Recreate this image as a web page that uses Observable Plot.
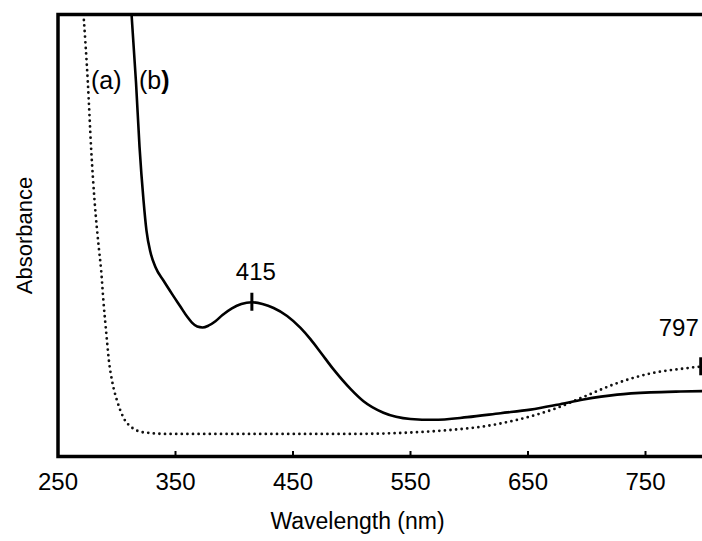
<!DOCTYPE html>
<html>
<head>
<meta charset="utf-8">
<script src="https://cdn.jsdelivr.net/npm/d3@7"></script>
<script src="https://cdn.jsdelivr.net/npm/@observablehq/plot@0.6"></script>
<style>
  html, body { margin: 0; padding: 0; background: #fff; overflow: hidden; }
  #chart svg { display: block; overflow: hidden; }
</style>
</head>
<body>
<div id="chart"></div>
<script>
// Spectrum (a), dotted trace: wavelength (nm) and absorbance (arbitrary units)
const wavelengthA = [271.7, 275.4, 278.3, 281.1, 284.9, 286.6, 288.7, 291.3, 293.4, 296.1,
  300.4, 305.7, 313.1, 320.2, 328.7, 342.9, 420, 498.9, 555.7, 584,
  612.1, 640.8, 657.8, 674.9, 697.5, 725.9, 754.3, 782.6, 797, 800];
const absorbanceA = [1.000, 0.846, 0.692, 0.579, 0.468, 0.425, 0.350, 0.273, 0.215, 0.170,
  0.125, 0.088, 0.065, 0.056, 0.053, 0.051, 0.051, 0.051, 0.055, 0.060,
  0.068, 0.083, 0.095, 0.110, 0.135, 0.166, 0.188, 0.199, 0.203, 0.203];

// Spectrum (b), solid trace
const wavelengthB = [312.6, 316.4, 319.4, 322.8, 325.3, 328.7, 333, 340, 347, 354,
  360, 364, 368.5, 373, 378, 384, 390, 398, 406, 415,
  424, 433.5, 445, 456.4, 465, 473.4, 484.5, 498.9, 510, 527,
  550, 569.6, 598.3, 626.6, 652.1, 674.9, 697.2, 725.9, 754.3, 780, 800];
const absorbanceB = [1.000, 0.846, 0.700, 0.579, 0.511, 0.462, 0.428, 0.397, 0.368, 0.340,
  0.316, 0.303, 0.294, 0.292, 0.296, 0.306, 0.320, 0.335, 0.345, 0.349,
  0.345, 0.336, 0.318, 0.291, 0.265, 0.236, 0.197, 0.153, 0.125, 0.099,
  0.085, 0.083, 0.089, 0.098, 0.106, 0.117, 0.129, 0.140, 0.145, 0.147, 0.148];

// Marked band maxima
const peakWavelengths = [415, 797];
const peakAbsorbance = [0.349, 0.203];
const peakLabels = ["415", "797"];

// Curve labels
const curveLabelText = ["(a)", "(b"];
const curveLabelWavelength = [278.1, 318.9];
const curveLabelAbsorbance = [0.831, 0.831];

const xTicks = [250, 350, 450, 550, 650, 750];
const xTitle = "Wavelength (nm)";
const yTitle = "Absorbance";

const seriesA = wavelengthA.map((w, i) => ({w, a: absorbanceA[i]}));
const seriesB = wavelengthB.map((w, i) => ({w, a: absorbanceB[i]}));
const peaks = peakWavelengths.map((w, i) => ({w, a: peakAbsorbance[i], label: peakLabels[i]}));
const curveLabels = curveLabelText.map((t, i) => ({t, w: curveLabelWavelength[i], a: curveLabelAbsorbance[i]}));

const font = "'Liberation Sans', Arial, Helvetica, sans-serif";

const chart = Plot.plot({
  width: 702,
  height: 541,
  marginLeft: 57.5,
  marginRight: -13.5,
  marginTop: 14,
  marginBottom: 85,
  style: {fontFamily: font, background: "#fff", overflow: "hidden"},
  x: {domain: [250, 810]},
  y: {domain: [0, 1], axis: null},
  marks: [
    Plot.line(seriesA, {
      x: "w", y: "a", curve: "monotone-x", clip: true,
      stroke: "#111", strokeWidth: 2.8, strokeDasharray: "0 5.6", strokeLinecap: "round"
    }),
    Plot.line(seriesB, {
      x: "w", y: "a", curve: "monotone-x", clip: true,
      stroke: "#000", strokeWidth: 2.6
    }),
    // short vertical markers on the maxima
    Plot.ruleX(peaks, {
      x: "w", y1: "a", y2: "a", insetTop: -9, insetBottom: -9,
      stroke: "#000", strokeWidth: 3
    }),
    Plot.text(peaks.slice(0, 1), {
      x: "w", y: "a", text: "label", lineAnchor: "bottom",
      dx: 4, dy: -22, fontSize: 24, fill: "#000"
    }),
    Plot.text(peaks.slice(1), {
      x: "w", y: "a", text: "label", lineAnchor: "bottom", textAnchor: "start",
      dx: -42, dy: -31, fontSize: 24, fill: "#000"
    }),
    Plot.text(curveLabels, {
      x: "w", y: "a", text: "t", lineAnchor: "bottom", textAnchor: "start",
      fontSize: 25, fill: "#000"
    }),
    Plot.text(curveLabels.slice(1), {
      x: "w", y: "a", text: () => ")", lineAnchor: "bottom", textAnchor: "start",
      dx: 22.2, fontSize: 25, fontWeight: "bold", fill: "#000"
    }),
    Plot.axisX(xTicks, {
      tickSize: -5, tickPadding: 21, strokeWidth: 2,
      fontSize: 24, label: null, tickFormat: d => String(d), fill: "#000"
    }),
    Plot.text([xTitle], {
      frameAnchor: "bottom", lineAnchor: "bottom", textAnchor: "middle", dx: -29.5, dy: 72.5,
      fontSize: 23, fill: "#000"
    }),
    Plot.text([yTitle], {
      frameAnchor: "left", rotate: -90, lineAnchor: "middle", textAnchor: "middle", dx: -33,
      fontSize: 22, fill: "#000"
    }),
    Plot.frame({stroke: "#000", strokeWidth: 3.5})
  ]
});

document.getElementById("chart").appendChild(chart);
</script>
</body>
</html>
